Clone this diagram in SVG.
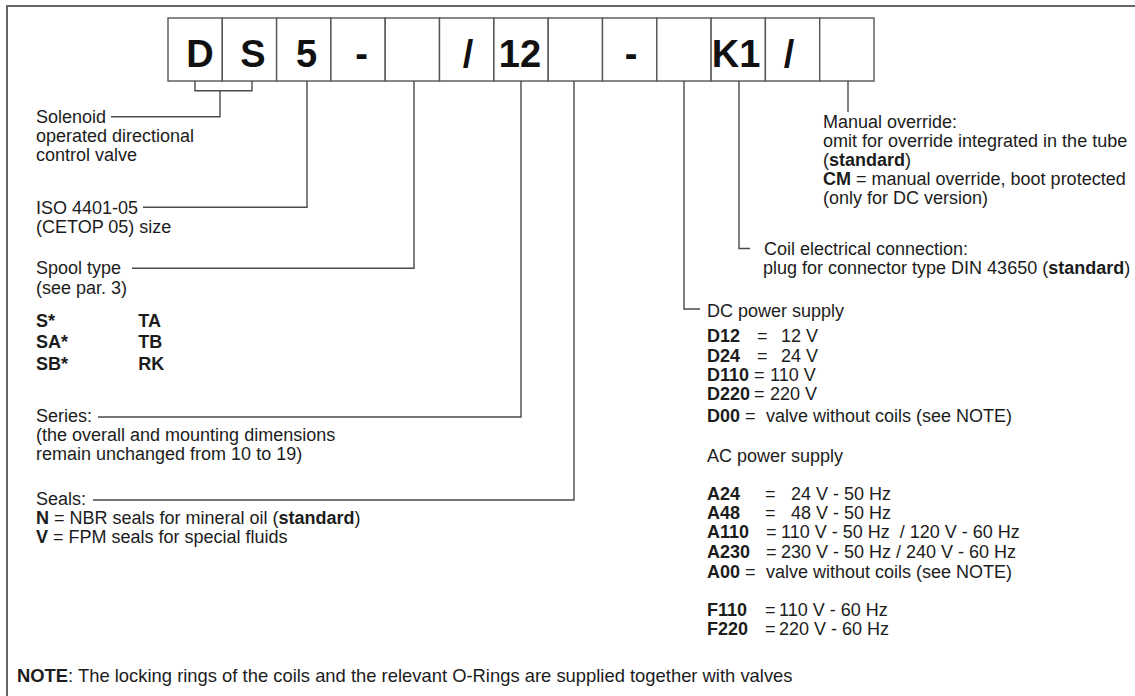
<svg xmlns="http://www.w3.org/2000/svg" width="1135" height="696" viewBox="0 0 1135 696">
<style>
.t{font-family:"Liberation Sans",Arial,sans-serif;font-size:18px;fill:#1c1c1c}
.b{font-weight:bold}
.c{font-family:"Liberation Sans",Arial,sans-serif;font-size:38px;font-weight:bold;fill:#111;text-anchor:middle}
.cell{fill:#fff;stroke:#555;stroke-width:1.4}
.ln{fill:none;stroke:#4a4a4a;stroke-width:1.4}
.frame{fill:none;stroke:#666;stroke-width:2}
</style>
<rect width="1135" height="696" fill="#fff"/>
<rect class="frame" x="7" y="6" width="1140" height="700"/>

<g id="code">
  <g id="cell-D"><rect class="cell" x="168" y="18" width="54.3" height="63"/><text class="c" x="200" y="67">D</text></g>
  <g id="cell-S"><rect class="cell" x="222.3" y="18" width="54.3" height="63"/><text class="c" x="253" y="67">S</text></g>
  <g id="cell-5"><rect class="cell" x="276.6" y="18" width="54.3" height="63"/><text class="c" x="306.5" y="67">5</text></g>
  <g id="cell-dash1"><rect class="cell" x="330.9" y="18" width="54.3" height="63"/><text class="c" x="361.5" y="67">-</text></g>
  <g id="cell-spool"><rect class="cell" x="385.2" y="18" width="54.3" height="63"/></g>
  <g id="cell-slash1"><rect class="cell" x="439.5" y="18" width="54.3" height="63"/><text class="c" x="468" y="67">/</text></g>
  <g id="cell-12"><rect class="cell" x="493.9" y="18" width="54.3" height="63"/><text class="c" x="520" y="67">12</text></g>
  <g id="cell-seals"><rect class="cell" x="548.2" y="18" width="54.3" height="63"/></g>
  <g id="cell-dash2"><rect class="cell" x="602.5" y="18" width="54.3" height="63"/><text class="c" x="631" y="67">-</text></g>
  <g id="cell-voltage"><rect class="cell" x="656.8" y="18" width="54.3" height="63"/></g>
  <g id="cell-K1"><rect class="cell" x="711.1" y="18" width="54.3" height="63"/><text class="c" x="736" y="67">K1</text></g>
  <g id="cell-slash2"><rect class="cell" x="765.4" y="18" width="54.3" height="63"/><text class="c" x="789" y="67">/</text></g>
  <g id="cell-override"><rect class="cell" x="819.7" y="18" width="54.3" height="63"/></g>
</g>

<g id="connectors">
  <path class="ln" d="M195,81 V90.7 H252 V81"/>
  <path class="ln" d="M220,90.7 V116.7 H111"/>
  <path class="ln" d="M307,81 V207.3 H143"/>
  <path class="ln" d="M414,81 V268.3 H132"/>
  <path class="ln" d="M521,81 V417 H98"/>
  <path class="ln" d="M574,81 V500 H93"/>
  <path class="ln" d="M684,81 V309 H700"/>
  <path class="ln" d="M739,81 V248.5 H750"/>
  <path class="ln" d="M848,81 V112"/>
</g>

<g id="label-solenoid">
  <text class="t" x="36" y="122.5">Solenoid</text>
  <text class="t" x="36" y="141.5">operated directional</text>
  <text class="t" x="36" y="160.7">control valve</text>
</g>
<g id="label-size">
  <text class="t" x="36" y="214">ISO 4401-05</text>
  <text class="t" x="36" y="233">(CETOP 05) size</text>
</g>
<g id="label-spool">
  <text class="t" x="36" y="274">Spool type</text>
  <text class="t" x="36" y="293.5">(see par. 3)</text>
  <text class="t b" x="36" y="326.5">S*</text><text class="t b" x="138.3" y="326.5">TA</text>
  <text class="t b" x="36" y="348.3">SA*</text><text class="t b" x="138.3" y="348.3">TB</text>
  <text class="t b" x="36" y="370">SB*</text><text class="t b" x="138.3" y="370">RK</text>
</g>
<g id="label-series">
  <text class="t" x="36" y="422">Series:</text>
  <text class="t" x="36" y="441">(the overall and mounting dimensions</text>
  <text class="t" x="36" y="460">remain unchanged from 10 to 19)</text>
</g>
<g id="label-seals">
  <text class="t" x="36" y="505">Seals:</text>
  <text class="t" x="36" y="524"><tspan class="b">N</tspan> = NBR seals for mineral oil (<tspan class="b">standard</tspan>)</text>
  <text class="t" x="36" y="543"><tspan class="b">V</tspan> = FPM seals for special fluids</text>
</g>
<g id="label-override">
  <text class="t" x="823" y="127.5">Manual override:</text>
  <text class="t" x="823" y="146.5">omit for override integrated in the tube</text>
  <text class="t" x="823" y="165.5">(<tspan class="b">standard</tspan>)</text>
  <text class="t" x="823" y="184.5"><tspan class="b">CM</tspan> = manual override, boot protected</text>
  <text class="t" x="823" y="203.5">(only for DC version)</text>
</g>
<g id="label-coil">
  <text class="t" x="764" y="254.5">Coil electrical connection:</text>
  <text class="t" x="763" y="273.5">plug for connector type DIN 43650 (<tspan class="b">standard</tspan>)</text>
</g>
<g id="label-voltage">
  <text class="t" x="707" y="317">DC power supply</text>
  <text class="t"><tspan class="b" x="707" y="342.3">D12</tspan><tspan x="757" y="342.3">=</tspan><tspan x="781" y="342.3">12 V</tspan></text>
  <text class="t"><tspan class="b" x="707" y="361.7">D24</tspan><tspan x="757" y="361.7">=</tspan><tspan x="781" y="361.7">24 V</tspan></text>
  <text class="t"><tspan class="b" x="707" y="380.7">D110</tspan><tspan x="754" y="380.7">=</tspan><tspan x="770" y="380.7">110 V</tspan></text>
  <text class="t"><tspan class="b" x="707" y="400">D220</tspan><tspan x="754" y="400">=</tspan><tspan x="770" y="400">220 V</tspan></text>
  <text class="t"><tspan class="b" x="707" y="421.7">D00</tspan><tspan x="745" y="421.7">=</tspan><tspan x="766" y="421.7">valve without coils (see NOTE)</tspan></text>
  <text class="t" x="707" y="461.7">AC power supply</text>
  <text class="t"><tspan class="b" x="707" y="500">A24</tspan><tspan x="765" y="500">=</tspan><tspan x="791" y="500">24 V - 50 Hz</tspan></text>
  <text class="t"><tspan class="b" x="707" y="519.3">A48</tspan><tspan x="765" y="519.3">=</tspan><tspan x="791" y="519.3">48 V - 50 Hz</tspan></text>
  <text class="t"><tspan class="b" x="707" y="538.3">A110</tspan><tspan x="766" y="538.3">=</tspan><tspan x="781" y="538.3" xml:space="preserve">110 V - 50 Hz  / 120 V - 60 Hz</tspan></text>
  <text class="t"><tspan class="b" x="707" y="557.7">A230</tspan><tspan x="766" y="557.7">=</tspan><tspan x="781" y="557.7">230 V - 50 Hz / 240 V - 60 Hz</tspan></text>
  <text class="t"><tspan class="b" x="707" y="577.7">A00</tspan><tspan x="745" y="577.7">=</tspan><tspan x="766" y="577.7">valve without coils (see NOTE)</tspan></text>
  <text class="t"><tspan class="b" x="707" y="616">F110</tspan><tspan x="765" y="616">=</tspan><tspan x="779" y="616">110 V - 60 Hz</tspan></text>
  <text class="t"><tspan class="b" x="707" y="635">F220</tspan><tspan x="765" y="635">=</tspan><tspan x="779" y="635">220 V - 60 Hz</tspan></text>
</g>
<g id="note">
  <text class="t" x="17" y="682" style="font-size:18.4px"><tspan class="b">NOTE</tspan>: The locking rings of the coils and the relevant O-Rings are supplied together with valves</text>
</g>
</svg>
